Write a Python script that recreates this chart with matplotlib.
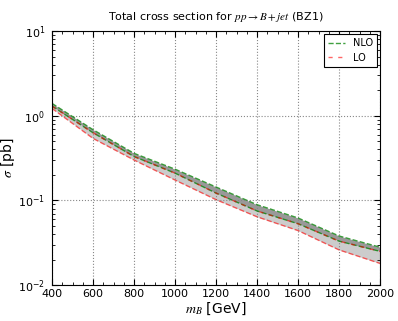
import matplotlib
matplotlib.use("Agg")
import matplotlib.pyplot as plt
from matplotlib.ticker import MultipleLocator, LogLocator

mass = [400, 600, 800, 1000, 1200, 1400, 1600, 1800, 2000]
nlo_up = [1.40, 0.685, 0.36, 0.234, 0.144, 0.089, 0.062, 0.038, 0.028]
nlo_dn = [1.30, 0.63, 0.33, 0.21, 0.122, 0.075, 0.053, 0.033, 0.025]
lo_up = [1.30, 0.63, 0.33, 0.21, 0.122, 0.075, 0.053, 0.033, 0.025]
lo_dn = [1.22, 0.54, 0.30, 0.174, 0.102, 0.064, 0.044, 0.026, 0.018]

plt.rcParams['mathtext.fontset'] = 'stix'
fig = plt.figure(figsize=(3.98, 3.21), dpi=100)
ax = fig.add_axes([0.1307, 0.112, 0.8243, 0.791])

ax.fill_between(mass, lo_dn, lo_up, color='#cccccc', lw=0)
ax.fill_between(mass, nlo_dn, nlo_up, color='#999999', lw=0)
ax.plot(mass, nlo_up, ls='--', color='g', lw=1, alpha=0.75, label='NLO')
ax.plot(mass, nlo_dn, ls='--', color='g', lw=1, alpha=0.75)
ax.plot(mass, lo_up, ls='--', color='r', lw=1, alpha=0.6, label='LO', dashes=(3, 4), dash_capstyle='butt')
ax.plot(mass, lo_dn, ls='--', color='r', lw=1, alpha=0.6)

ax.set_yscale('log')
ax.set_xlim(400, 2000)
ax.set_ylim(1e-2, 1e1)
ax.xaxis.set_major_locator(MultipleLocator(200))
ax.xaxis.set_minor_locator(MultipleLocator(50))
ax.yaxis.set_major_locator(LogLocator(base=10))
ax.yaxis.set_minor_locator(LogLocator(base=10, subs=range(2, 10)))
ax.tick_params(which='both', direction='in', top=True, right=True, labelsize=8)
ax.tick_params(which='major', length=4, pad=3)
ax.tick_params(which='minor', length=2)
ax.tick_params(axis='y', which='major', pad=5)
ax.grid(True, which='major', ls=':', color='#888888', lw=0.8)

ax.set_title(r'Total cross section for $pp \rightarrow B+jet$ (BZ1)', fontsize=8, pad=8)
ax.set_xlabel(r'$m_B$ [GeV]', fontsize=10, labelpad=1)
ax.set_ylabel(r'$\sigma$ [pb]', fontsize=10, labelpad=1)

leg = ax.legend(loc='upper right', fontsize=7, fancybox=False, framealpha=1,
                edgecolor='black', handlelength=1.8, borderaxespad=0.3)
leg.get_frame().set_linewidth(0.8)

fig.savefig('out.png', dpi=100)
